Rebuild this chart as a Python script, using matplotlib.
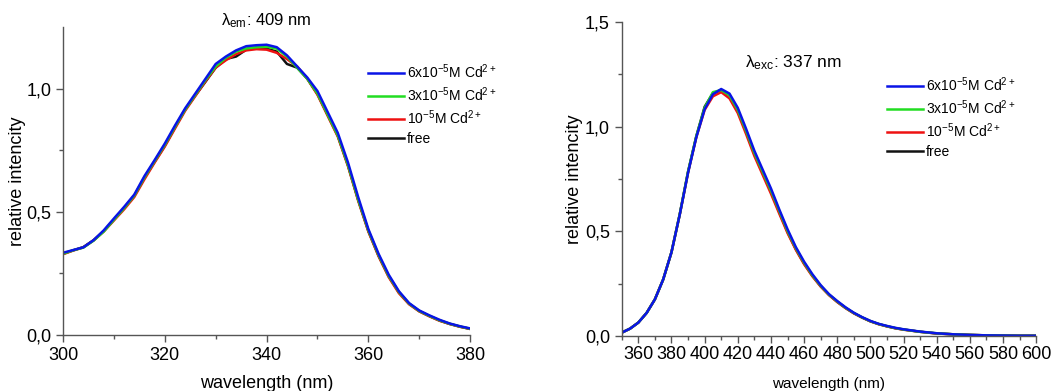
import numpy as np
import matplotlib
matplotlib.use('Agg')
import matplotlib.pyplot as plt
from matplotlib.ticker import MultipleLocator, FixedLocator, FuncFormatter

plt.rcParams['font.family'] = ['Liberation Sans', 'DejaVu Sans']
plt.rcParams['mathtext.fontset'] = 'custom'
plt.rcParams['mathtext.rm'] = 'Liberation Sans'
plt.rcParams['mathtext.it'] = 'Liberation Sans:italic'

labels = [r'6x10$^{-5}$M Cd$^{2+}$', r'3x10$^{-5}$M Cd$^{2+}$', r'10$^{-5}$M Cd$^{2+}$', 'free']
colors = ['#0a14e6', '#22dd22', '#ee1111', '#111111']

# left panel: excitation spectra (lambda_em 409 nm)
wl_a = [300, 302, 304, 306, 308, 310, 312, 314, 316, 318, 320, 322, 324, 326, 328, 330, 332, 334,
        336, 338, 340, 342, 344, 346, 348, 350, 352, 354, 356, 358, 360, 362, 364, 366, 368, 370,
        372, 374, 376, 378, 380]
a_6e5 = [0.334, 0.345, 0.356, 0.385, 0.425, 0.473, 0.52, 0.57, 0.645, 0.71, 0.777, 0.85, 0.92, 0.98,
         1.04, 1.10, 1.13, 1.155, 1.172, 1.176, 1.178, 1.168, 1.135, 1.09, 1.045, 0.99, 0.905, 0.82,
         0.70, 0.56, 0.43, 0.33, 0.245, 0.178, 0.13, 0.10, 0.08, 0.062, 0.047, 0.036, 0.027]
a_3e5 = [0.330, 0.344, 0.355, 0.383, 0.42, 0.468, 0.515, 0.566, 0.64, 0.706, 0.772, 0.845, 0.915, 0.975,
         1.035, 1.09, 1.125, 1.15, 1.163, 1.168, 1.17, 1.162, 1.13, 1.085, 1.04, 0.98, 0.895, 0.81,
         0.69, 0.55, 0.425, 0.325, 0.24, 0.175, 0.128, 0.098, 0.078, 0.06, 0.046, 0.035, 0.026]
a_1e5 = [0.328, 0.343, 0.356, 0.384, 0.42, 0.465, 0.51, 0.56, 0.632, 0.70, 0.765, 0.838, 0.91, 0.97,
         1.03, 1.085, 1.115, 1.14, 1.155, 1.16, 1.158, 1.145, 1.12, 1.09, 1.04, 0.975, 0.89, 0.805,
         0.685, 0.545, 0.42, 0.32, 0.235, 0.17, 0.125, 0.096, 0.076, 0.058, 0.045, 0.034, 0.025]
a_free = [0.330, 0.344, 0.357, 0.385, 0.422, 0.468, 0.515, 0.565, 0.638, 0.703, 0.768, 0.842, 0.915, 0.972,
          1.028, 1.085, 1.12, 1.13, 1.158, 1.165, 1.162, 1.15, 1.10, 1.085, 1.04, 0.978, 0.893, 0.808,
          0.688, 0.548, 0.422, 0.322, 0.238, 0.173, 0.127, 0.097, 0.077, 0.059, 0.045, 0.034, 0.025]

# right panel: emission spectra (lambda_exc 337 nm)
wl_b = [350, 355, 360, 365, 370, 375, 380, 385, 390, 395, 400, 405, 410, 415, 420, 425, 430, 435,
        440, 445, 450, 455, 460, 465, 470, 475, 480, 485, 490, 495, 500, 505, 510, 515, 520, 530,
        540, 550, 560, 570, 580, 590, 600]
b_6e5 = [0.016, 0.035, 0.064, 0.11, 0.175, 0.27, 0.40, 0.58, 0.78, 0.95, 1.083, 1.155, 1.18, 1.158,
         1.09, 0.99, 0.885, 0.795, 0.705, 0.605, 0.51, 0.425, 0.355, 0.295, 0.243, 0.20, 0.167, 0.137,
         0.111, 0.09, 0.072, 0.058, 0.048, 0.039, 0.032, 0.021, 0.013, 0.008, 0.005, 0.003, 0.002,
         0.001, 0.001]
b_3e5 = [0.016, 0.035, 0.064, 0.11, 0.175, 0.27, 0.40, 0.582, 0.785, 0.955, 1.09, 1.165, 1.175, 1.15,
         1.08, 0.98, 0.875, 0.785, 0.695, 0.598, 0.502, 0.42, 0.35, 0.29, 0.24, 0.198, 0.165, 0.135,
         0.11, 0.089, 0.071, 0.057, 0.047, 0.038, 0.031, 0.02, 0.013, 0.008, 0.005, 0.003, 0.002,
         0.001, 0.001]
b_1e5 = [0.016, 0.035, 0.064, 0.11, 0.175, 0.27, 0.40, 0.58, 0.78, 0.95, 1.08, 1.145, 1.165, 1.135,
         1.065, 0.965, 0.86, 0.77, 0.68, 0.585, 0.492, 0.412, 0.343, 0.285, 0.236, 0.195, 0.162, 0.133,
         0.108, 0.088, 0.07, 0.056, 0.046, 0.037, 0.03, 0.02, 0.012, 0.008, 0.005, 0.003, 0.002,
         0.001, 0.001]
b_free = [0.016, 0.035, 0.064, 0.11, 0.175, 0.27, 0.40, 0.582, 0.785, 0.955, 1.095, 1.16, 1.175, 1.15,
          1.075, 0.975, 0.87, 0.78, 0.69, 0.592, 0.497, 0.415, 0.346, 0.288, 0.238, 0.197, 0.163, 0.134,
          0.109, 0.088, 0.07, 0.057, 0.046, 0.037, 0.031, 0.02, 0.012, 0.008, 0.005, 0.003, 0.002,
          0.001, 0.001]

comma = FuncFormatter(lambda v, p: ('%.1f' % v).replace('.', ','))
spine_col = '#555555'

fig = plt.figure(figsize=(10.52, 3.91), dpi=100)
ax1 = fig.add_axes([0.0599, 0.143, 0.387, 0.788])
ax2 = fig.add_axes([0.591, 0.1407, 0.394, 0.803])

for ax in (ax1, ax2):
    ax.spines['top'].set_visible(False)
    ax.spines['right'].set_visible(False)
    for s in ('left', 'bottom'):
        ax.spines[s].set_color(spine_col)
        ax.spines[s].set_linewidth(1.0)
    ax.tick_params(which='major', direction='out', length=5, width=1, color=spine_col, labelsize=13)
    ax.tick_params(which='minor', direction='out', length=3, width=1, color=spine_col)
    ax.yaxis.set_major_locator(MultipleLocator(0.5))
    ax.yaxis.set_major_formatter(comma)

ax1.set_ylabel('relative intencity', fontsize=13, labelpad=0)
ax2.set_ylabel('relative intencity', fontsize=13, labelpad=1)

# left
series_a = [a_6e5, a_3e5, a_1e5, a_free]
for ys, c in zip(series_a[::-1], colors[::-1]):
    ax1.plot(wl_a, ys, color=c, lw=1.8)
ax1.set_xlim(300, 380)
ax1.set_ylim(0, 1.25)
ax1.xaxis.set_major_locator(MultipleLocator(20))
ax1.xaxis.set_minor_locator(MultipleLocator(10))
ax1.yaxis.set_minor_locator(FixedLocator([0.25, 0.75]))
ax1.set_xlabel('wavelength (nm)', fontsize=13, labelpad=8)
ax1.text(0.5, 1.02, 'λ$_{\\mathrm{em}}$: 409 nm', transform=ax1.transAxes,
         ha='center', va='center', fontsize=12)
h = ax1.get_lines()[::-1]
ax1.legend(h, labels, loc='upper left', bbox_to_anchor=(0.75, 0.885), frameon=False,
           fontsize=10, handlelength=2.6, handletextpad=0.2, labelspacing=0.32, borderpad=0,
           borderaxespad=0)

# right
series_b = [b_6e5, b_3e5, b_1e5, b_free]
for ys, c in zip(series_b[::-1], colors[::-1]):
    ax2.plot(wl_b, ys, color=c, lw=1.8)
ax2.set_xlim(350, 600)
ax2.set_ylim(0, 1.5)
ax2.xaxis.set_major_locator(FixedLocator(list(range(360, 601, 20))))
ax2.xaxis.set_minor_locator(FixedLocator(list(range(350, 601, 10))))
ax2.yaxis.set_minor_locator(FixedLocator([0.25, 0.75, 1.25]))
ax2.tick_params(axis='x', pad=2)
ax2.set_xlabel('wavelength (nm)', fontsize=11, labelpad=10)
ax2.text(0.413, 0.87, 'λ$_{\\mathrm{exc}}$: 337 nm', transform=ax2.transAxes,
         ha='center', va='center', fontsize=12.5)
h = ax2.get_lines()[::-1]
ax2.legend(h, labels, loc='upper left', bbox_to_anchor=(0.64, 0.83), frameon=False,
           fontsize=10, handlelength=2.6, handletextpad=0.2, labelspacing=0.32, borderpad=0,
           borderaxespad=0)

fig.savefig('out.png', dpi=100)
